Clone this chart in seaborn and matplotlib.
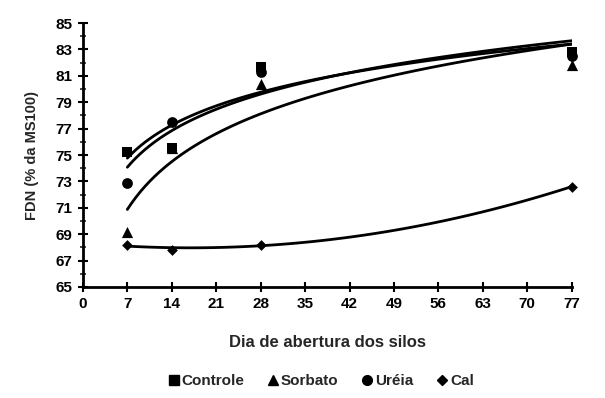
import matplotlib
matplotlib.use("Agg")
import matplotlib.pyplot as plt
import seaborn as sns
import numpy as np
import pandas as pd
from matplotlib.ticker import MultipleLocator
from matplotlib.lines import Line2D

dias = [7, 14, 28, 77]
controle = [75.2, 75.5, 81.7, 82.8]
sorbato = [69.2, 75.5, 80.4, 81.8]
ureia = [72.9, 77.5, 81.3, 82.5]
cal = [68.2, 67.8, 68.2, 72.6]

series = ["Controle", "Sorbato", "Uréia", "Cal"]
values = [controle, sorbato, ureia, cal]
y_ticks = list(range(65, 86, 2))
x_ticks = list(range(0, 78, 7))

sns.set_style("white")
plt.rcParams['font.family'] = ['Liberation Sans', 'DejaVu Sans']
plt.rcParams['font.weight'] = 'bold'

fig = plt.figure(figsize=(6.05, 3.98), dpi=100)
ax = fig.add_axes([0.137, 0.279, 0.808, 0.663])

styles = {
    "Controle": dict(marker="s", s=60),
    "Sorbato": dict(marker="^", s=65),
    "Uréia": dict(marker="o", s=60),
    "Cal": dict(marker="D", s=30),
}

order_draw = ["Cal", "Sorbato", "Uréia", "Controle"]
for name in order_draw:
    vals = values[series.index(name)]
    df = pd.DataFrame({"x": dias, "y": vals})
    if name == "Cal":
        sns.regplot(data=df, x="x", y="y", order=2, ci=None, ax=ax,
                    scatter=False, line_kws=dict(color="black", lw=2))
    else:
        sns.regplot(data=df, x="x", y="y", logx=True, ci=None, ax=ax,
                    scatter=False, line_kws=dict(color="black", lw=2))
for name in order_draw:
    vals = values[series.index(name)]
    st = styles[name]
    ax.scatter(dias, vals, marker=st["marker"], s=st["s"], color="black",
               zorder=5, linewidths=0, clip_on=False)

ax.set_xlim(0, 77)
ax.set_ylim(65, 85)
ax.set_xticks(x_ticks)
ax.set_yticks(y_ticks)
ax.yaxis.set_minor_locator(MultipleLocator(1))
ax.tick_params(axis="both", which="major", direction="inout", length=7, width=1.5,
               labelsize=11, colors="black", pad=4)
ax.tick_params(axis="y", which="minor", direction="inout", length=4, width=1.2, left=True)
ax.tick_params(axis="x", which="major", bottom=True)
ax.tick_params(axis="y", which="major", left=True)
for lab in ax.get_xticklabels() + ax.get_yticklabels():
    lab.set_fontweight("bold")

for sp in ["top", "right"]:
    ax.spines[sp].set_visible(False)
for sp in ["left", "bottom"]:
    ax.spines[sp].set_color("black")
    ax.spines[sp].set_linewidth(2)

ax.set_xlabel("Dia de abertura dos silos", fontsize=12, fontweight="bold", labelpad=17)
ax.set_ylabel("FDN (% da MS100)", fontsize=10.5, fontweight="bold", labelpad=12)

handles = [Line2D([], [], linestyle="none", marker=styles[n]["marker"], color="black",
                  markersize=7 if n != "Cal" else 5) for n in series]
fig.legend(handles, series, loc="center", bbox_to_anchor=(0.53, 0.043), ncol=4,
           frameon=False, handletextpad=0.1, columnspacing=1.5,
           handlelength=0.8, prop=dict(weight="bold", size=11))

fig.savefig("out.png", dpi=100)
